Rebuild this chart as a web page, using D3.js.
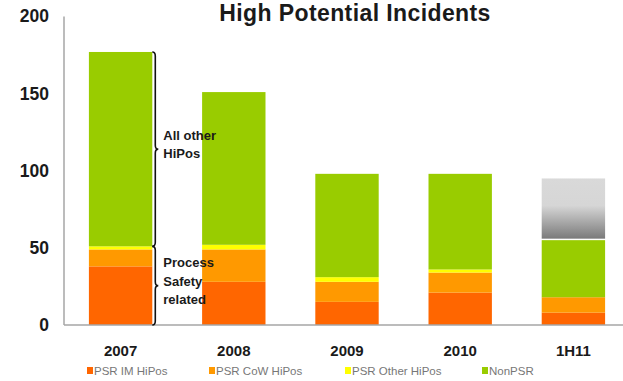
<!DOCTYPE html>
<html>
<head>
<meta charset="utf-8">
<script src="https://cdn.jsdelivr.net/npm/d3@7"></script>
<style>
  body { margin: 0; background: #fff; }
  svg { display: block; font-family: Arial, "Liberation Sans", sans-serif; }
</style>
</head>
<body>
<div id="chart"></div>
<script>
// values
const years = ["2007", "2008", "2009", "2010", "1H11"];
const psrIM = [38, 28, 15, 21, 8];
const psrCoW = [11, 21, 13, 13, 10];
const psrOther = [2, 3, 3, 2, 0];
const nonPSR = [126, 99, 67, 62, 37];
const projected = [0, 0, 0, 0, 40];
const yTicks = [0, 50, 100, 150, 200];

const seriesNames = ["PSR IM HiPos", "PSR CoW HiPos", "PSR Other HiPos", "NonPSR"];
const colors = ["#ff6600", "#ff9900", "#ffff00", "#99cc00"];

const width = 623, height = 381;

const table = years.map((y, i) => ({
  year: y,
  "PSR IM HiPos": psrIM[i],
  "PSR CoW HiPos": psrCoW[i],
  "PSR Other HiPos": psrOther[i],
  "NonPSR": nonPSR[i],
  "Projected": projected[i]
}));

const svg = d3.select("#chart").append("svg")
  .attr("width", width)
  .attr("height", height);

const defs = svg.append("defs");
const grad = defs.append("linearGradient")
  .attr("id", "grayFade")
  .attr("x1", 0).attr("y1", 0).attr("x2", 0).attr("y2", 1);
grad.append("stop").attr("offset", "0%").attr("stop-color", "#d9d9d9");
grad.append("stop").attr("offset", "45%").attr("stop-color", "#d6d6d6");
grad.append("stop").attr("offset", "100%").attr("stop-color", "#7a7a7a");

// ---- scales
const x = d3.scaleBand()
  .domain(years)
  .range([64, 630])
  .paddingInner(0.44)
  .paddingOuter(0.22);

const y = d3.scaleLinear()
  .domain([0, 200])
  .range([325, 16.5]);

// ---- bars
const stack = d3.stack().keys([...seriesNames, "Projected"]);
const layers = stack(table);

svg.append("g").selectAll("g")
  .data(layers)
  .join("g")
    .attr("fill", d => d.key === "Projected" ? "url(#grayFade)" : colors[seriesNames.indexOf(d.key)])
  .selectAll("rect")
  .data(d => d.map(v => ({ v, key: d.key })))
  .join("rect")
    .attr("x", d => x(d.v.data.year))
    .attr("width", x.bandwidth())
    .attr("y", d => y(d.v[1]))
    .attr("height", d => {
      const h = y(d.v[0]) - y(d.v[1]);
      return d.key === "Projected" && h > 0 ? h - 1.5 : h;
    });

// ---- axes
const axisColor = "#a6a6a6";
svg.append("line")
  .attr("x1", 64).attr("x2", 64)
  .attr("y1", y(200)).attr("y2", y(0))
  .attr("stroke", axisColor).attr("stroke-width", 1.5);
svg.append("line")
  .attr("x1", 64).attr("x2", width)
  .attr("y1", y(0)).attr("y2", y(0))
  .attr("stroke", axisColor).attr("stroke-width", 1.5);

svg.append("g").selectAll("text")
  .data(yTicks)
  .join("text")
    .attr("x", 49)
    .attr("y", d => y(d))
    .attr("dy", "0.34em")
    .attr("text-anchor", "end")
    .style("font-size", "17.5px")
    .style("font-weight", "bold")
    .attr("fill", "#1a1a1a")
    .text(d => d);

svg.append("g").selectAll("text")
  .data(years)
  .join("text")
    .attr("x", d => x(d) + x.bandwidth() / 2)
    .attr("y", 356)
    .attr("text-anchor", "middle")
    .style("font-size", "15px")
    .style("font-weight", "bold")
    .attr("fill", "#1a1a1a")
    .text(d => d);

// ---- title
svg.append("text")
  .attr("x", 355)
  .attr("y", 21)
  .attr("text-anchor", "middle")
  .style("font-size", "23px")
  .style("font-weight", "bold")
  .style("letter-spacing", "0.4px")
  .attr("fill", "#1a1a1a")
  .text("High Potential Incidents");

// ---- braces next to the 2007 bar
function brace(x0, ya, yb) {
  const x1 = x0 + 3, x2 = x0 + 6, w = 4, ym = (ya + yb) / 2;
  return `M${x0},${ya} Q${x1},${ya} ${x1},${ya + w} L${x1},${ym - w} Q${x1},${ym} ${x2},${ym}` +
         ` Q${x1},${ym} ${x1},${ym + w} L${x1},${yb - w} Q${x1},${yb} ${x0},${yb}`;
}
const first = table[0];
const psrTotal = first["PSR IM HiPos"] + first["PSR CoW HiPos"] + first["PSR Other HiPos"];
const allTotal = psrTotal + first["NonPSR"];
const bx = x(first.year) + x.bandwidth();

svg.append("path")
  .attr("d", brace(bx, y(allTotal), y(psrTotal)))
  .attr("fill", "none").attr("stroke", "#111").attr("stroke-width", 1.6);
svg.append("path")
  .attr("d", brace(bx, y(psrTotal), y(0)))
  .attr("fill", "none").attr("stroke", "#111").attr("stroke-width", 1.6);

const noteStyle = t => t
  .attr("x", bx + 11)
  .style("font-size", "13px")
  .style("font-weight", "bold")
  .attr("fill", "#1a1a1a");

const note1 = ["All other", "HiPos"];
const midUpper = y((allTotal + psrTotal) / 2);
svg.append("g").selectAll("text")
  .data(note1).join("text")
  .call(noteStyle)
  .attr("y", (d, i) => midUpper - 9.5 + i * 18)
  .text(d => d);

const note2 = ["Process", "Safety", "related"];
const midLower = y(psrTotal / 2);
svg.append("g").selectAll("text")
  .data(note2).join("text")
  .call(noteStyle)
  .attr("y", (d, i) => midLower - 18.5 + i * 18.5)
  .text(d => d);

// ---- legend
const legendX = [87, 209, 345, 482];
const legend = svg.append("g").selectAll("g")
  .data(seriesNames)
  .join("g")
    .attr("transform", (d, i) => `translate(${legendX[i]},367)`);
legend.append("rect")
  .attr("width", 6).attr("height", 7)
  .attr("fill", (d, i) => colors[i]);
legend.append("text")
  .attr("x", 7)
  .attr("y", 7.5)
  .style("font-size", "11.5px")
  .attr("fill", "#777")
  .text(d => d);
</script>
</body>
</html>
